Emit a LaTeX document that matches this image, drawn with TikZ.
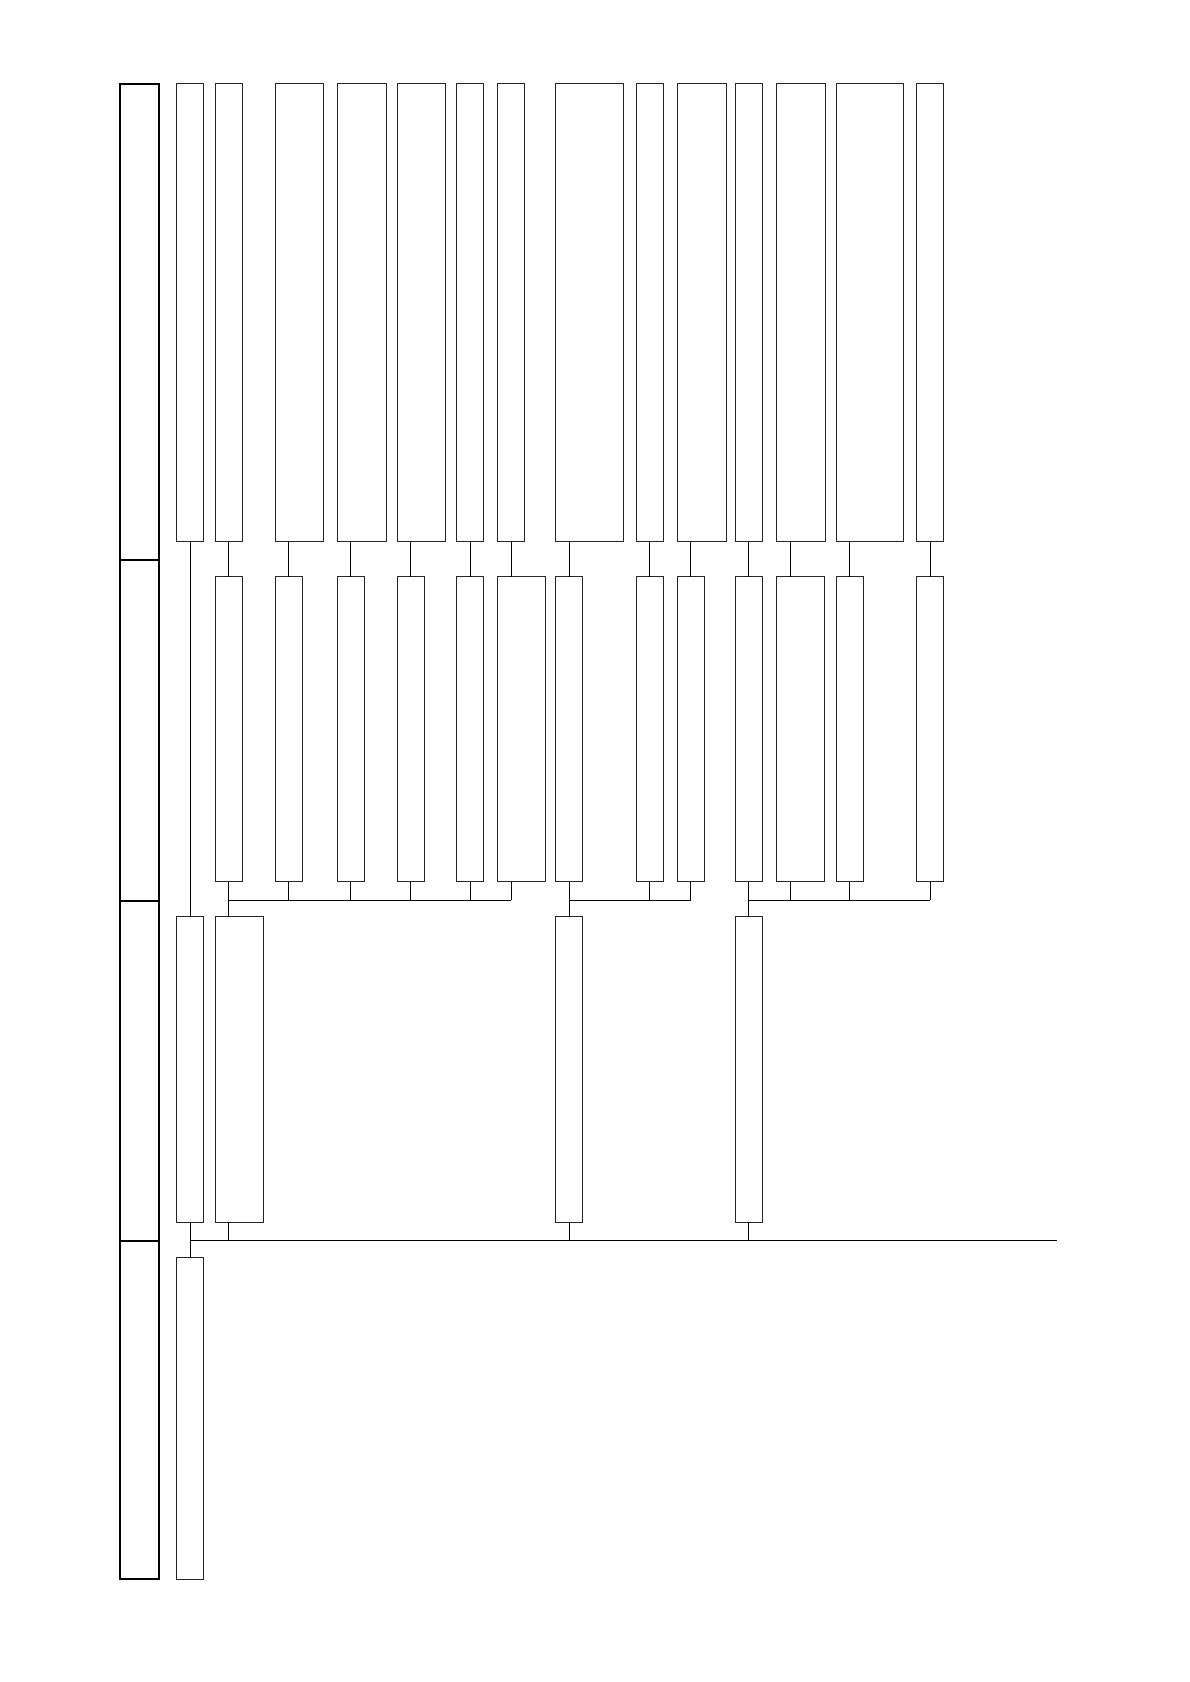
\documentclass[tikz,border=0pt]{standalone}
\begin{document}
\begin{tikzpicture}[x=1pt,y=-1pt,
  bx/.style={draw=black!85, line width=0.9pt, rectangle, inner sep=0pt, outer sep=0pt, anchor=north west},
  fr/.style={draw=black, line width=1.8pt, rectangle, inner sep=0pt, outer sep=0pt, anchor=north west},
  cn/.style={draw=black, line width=0.9pt}]
\useasboundingbox (0,0) rectangle (1190,1682);
\newcommand\bx[5]{\node[bx, minimum width=#4pt, minimum height=#5pt] (#1) at (#2,#3) {};}
% frame
\node[fr, minimum width=39pt, minimum height=476pt] (f1) at (120,84) {};
\node[fr, minimum width=39pt, minimum height=340.7pt] (f2) at (120,560) {};
\node[fr, minimum width=39pt, minimum height=340.3pt] (f3) at (120,900.7) {};
\node[fr, minimum width=39pt, minimum height=338pt] (f4) at (120,1241) {};
% row 1
\def\ya{83.5}\def\ha{458.2}
\bx{t1}{176.7}{\ya}{26.6}{\ha}
\bx{t2}{215.3}{\ya}{27.4}{\ha}
\bx{t3}{275}{\ya}{48.3}{\ha}
\bx{t4}{337.3}{\ya}{49.4}{\ha}
\bx{t5}{397.3}{\ya}{48.4}{\ha}
\bx{t6}{456.7}{\ya}{26.6}{\ha}
\bx{t7}{497.7}{\ya}{26.6}{\ha}
\bx{t8}{555.7}{\ya}{67.6}{\ha}
\bx{t9}{636.3}{\ya}{27}{\ha}
\bx{t10}{677.3}{\ya}{48.7}{\ha}
\bx{t11}{735.3}{\ya}{27.4}{\ha}
\bx{t12}{776.7}{\ya}{49}{\ha}
\bx{t13}{836.3}{\ya}{67}{\ha}
\bx{t14}{916.7}{\ya}{26.6}{\ha}
% row 2
\def\yb{576.7}\def\hb{305}
\bx{m2}{215.3}{\yb}{27.4}{\hb}
\bx{m3}{275}{\yb}{27.3}{\hb}
\bx{m4}{337.3}{\yb}{27}{\hb}
\bx{m5}{397.3}{\yb}{27}{\hb}
\bx{m6}{456.7}{\yb}{26.6}{\hb}
\bx{m7}{497.7}{\yb}{47.3}{\hb}
\bx{m8}{555.7}{\yb}{27}{\hb}
\bx{m9}{636.3}{\yb}{27}{\hb}
\bx{m10}{677.3}{\yb}{27}{\hb}
\bx{m11}{735.3}{\yb}{27.4}{\hb}
\bx{m12}{776.7}{\yb}{47.6}{\hb}
\bx{m13}{836.3}{\yb}{27}{\hb}
\bx{m14}{916.7}{\yb}{26.6}{\hb}
% row 3
\def\yc{916.7}\def\hc{305.6}
\bx{r1}{176.7}{\yc}{26.6}{\hc}
\bx{r2}{215.3}{\yc}{48}{\hc}
\bx{r8}{555.7}{\yc}{27}{\hc}
\bx{r11}{735.3}{\yc}{27.4}{\hc}
% row 4
\bx{q1}{176.7}{1257.3}{26.6}{321.7}
% bus levels
\coordinate (b1) at (0,900.3);
\coordinate (b2) at (0,1240.3);
\coordinate (bend) at (1056.7,1240.3);
% row1 -> row2
\foreach \i in {2,...,14}{
  \draw[cn] ([xshift=13.3pt]t\i.south west) -- ([xshift=13.3pt]m\i.south west |- m\i.north);
}
% column 1 long connector
\draw[cn] ([xshift=13.3pt]t1.south west) -- ([xshift=13.3pt]r1.north west);
% group buses
\foreach \i in {2,...,7}{\draw[cn] ([xshift=13.3pt]m\i.south west) -- ([xshift=13.3pt]m\i.south west |- b1);}
\draw[cn] ([xshift=13.3pt]m2.south west |- b1) -- ([xshift=13.3pt]m7.south west |- b1);
\draw[cn] ([xshift=13.3pt]m2.south west |- b1) -- ([xshift=13.3pt]r2.north west);
\foreach \i in {8,9,10}{\draw[cn] ([xshift=13.3pt]m\i.south west) -- ([xshift=13.3pt]m\i.south west |- b1);}
\draw[cn] ([xshift=13.3pt]m8.south west |- b1) -- ([xshift=13.3pt]m10.south west |- b1);
\draw[cn] ([xshift=13.3pt]m8.south west |- b1) -- ([xshift=13.3pt]r8.north west);
\foreach \i in {11,...,14}{\draw[cn] ([xshift=13.3pt]m\i.south west) -- ([xshift=13.3pt]m\i.south west |- b1);}
\draw[cn] ([xshift=13.3pt]m11.south west |- b1) -- ([xshift=13.3pt]m14.south west |- b1);
\draw[cn] ([xshift=13.3pt]m11.south west |- b1) -- ([xshift=13.3pt]r11.north west);
% bottom bus
\foreach \i in {1,2,8,11}{\draw[cn] ([xshift=13.3pt]r\i.south west) -- ([xshift=13.3pt]r\i.south west |- b2);}
\draw[cn] ([xshift=13.3pt]r1.south west |- b2) -- (bend);
\draw[cn] ([xshift=13.3pt]r1.south west |- b2) -- ([xshift=13.3pt]q1.north west);
\end{tikzpicture}
\end{document}
